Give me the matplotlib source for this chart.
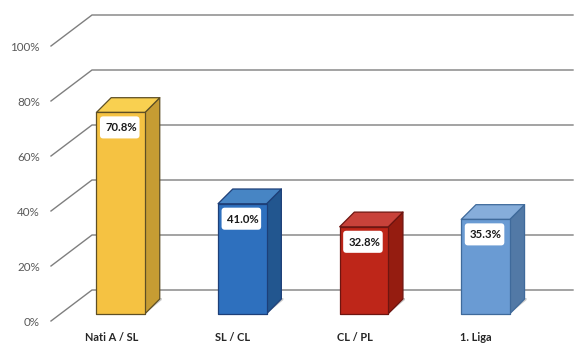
import matplotlib
matplotlib.use("Agg")
import matplotlib.pyplot as plt
from matplotlib.patches import Polygon, FancyBboxPatch

plt.rcParams['font.family'] = ['Lato', 'DejaVu Sans']

categories = ['Nati A / SL', 'SL / CL', 'CL / PL', '1. Liga']
bar_heights = [73.2, 40.0, 31.6, 34.3]
value_labels = ['70.8%', '41.0%', '32.8%', '35.3%']
ticks = [0, 20, 40, 60, 80, 100]
front = ['#F5C242', '#2E70BE', '#BE2619', '#6A9BD3']
side = ['#C69C33', '#22568F', '#951C10', '#5279A6']
top = ['#F9D050', '#4785C4', '#C8423A', '#86ADDA']
edge = ['#5E4F25', '#1D3F78', '#6E1510', '#3F6A9B']

W, H = 582, 352
fig = plt.figure(figsize=(W / 100, H / 100), dpi=100)
ax = fig.add_axes([0, 0, 1, 1])
PX = 121.6   # pixels per category
PY = 2.75    # pixels per percent
ax.set_xlim((0 - 120.75) / PX, (W - 120.75) / PX)
ax.set_ylim((321 - H) / PY, 321 / PY)
ax.axis('off')

dx = lambda p: p / PX
dy = lambda p: p / PY
x0_wall = dx(51 - 120.75)
x1_wall = dx(92 - 120.75)
x2_wall = dx(573 - 120.75)
for t in ticks:
    ax.plot([x0_wall, x1_wall, x2_wall], [t, t + dy(31), t + dy(31)],
            color='#7F7F7F', lw=1.0, zorder=1, solid_joinstyle='miter')
    ax.text(dx(40 - 120.75), t - dy(1.8), f'{t}%', ha='right', va='center',
            fontsize=8.4, color='#595959', zorder=5)

base = dy(321 - 313.7)
w = dx(48.6)
dep_x, dep_y = dx(14.7), dy(14.7)
for i, (c, h) in enumerate(zip(categories, bar_heights)):
    l, r = i - w / 2, i + w / 2
    b, t = base, base + h
    # floor shadow
    ax.add_patch(Polygon([(r, b), (r + dep_x + dx(2), b + dep_y - dy(1)),
                          (r + dep_x + dx(2), b + dep_y + dy(1)), (r + dep_x, b + dep_y + dy(1))],
                         closed=True, fc='#C9C9C9', ec='none', zorder=2))
    kw = dict(closed=True, ec=edge[i], lw=0.9, zorder=3, joinstyle='round')
    ax.add_patch(Polygon([(r, b), (r + dep_x, b + dep_y), (r + dep_x, t + dep_y), (r, t)], fc=side[i], **kw))
    ax.add_patch(Polygon([(l, t), (r, t), (r + dep_x, t + dep_y), (l + dep_x, t + dep_y)], fc=top[i], **kw))
    ax.add_patch(Polygon([(l, b), (r, b), (r, t), (l, t)], fc=front[i], **kw))
    # value box
    cx = i - dx(1.0)
    cy = t - dy(15)
    bw, bh = dx(38), dy(20.5)
    ax.add_patch(FancyBboxPatch((cx - bw / 2 + dx(2), cy - bh / 2 + dy(2)), bw - dx(4), bh - dy(4),
                                boxstyle='round,pad=0.0', fc='white', ec='white', lw=4,
                                joinstyle='round', zorder=4))
    ax.text(cx + dx(1.5), cy - dy(0.5), value_labels[i], ha='center', va='center', fontsize=8.2,
            fontweight='bold', color='#1A1A1A', zorder=5)
    ax.text(i - dx(9.5), dy(321 - 337.5), c, ha='center', va='center', fontsize=7.9,
            fontweight='bold', color='#262626', zorder=5)

fig.savefig('out.png', dpi=100, facecolor='white')
